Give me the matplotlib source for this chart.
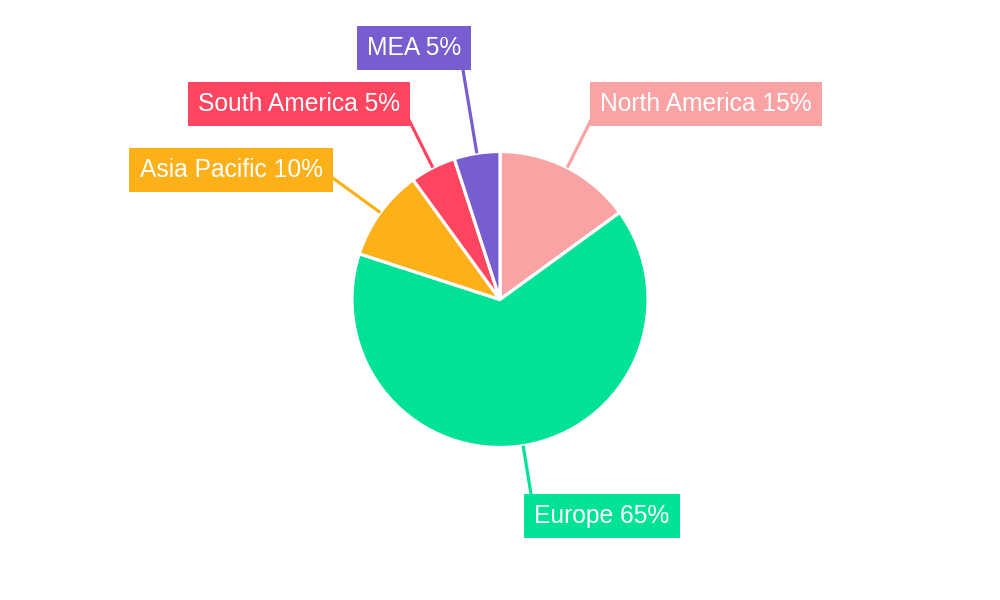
import numpy as np
import matplotlib.pyplot as plt

regions = ["North America", "Europe", "Asia Pacific", "South America", "MEA"]
shares = [15, 65, 10, 5, 5]
colors = ["#F9A3A4", "#00E396", "#FEB019", "#FF4560", "#775DD0"]

# label box centres and leader-line end points (pixels, y from top)
label_pos = [(706, 104), (602, 516), (231, 170), (299, 104), (414, 48)]
line_end = [(592, 118), (531, 494), (330, 176), (408, 118), (463, 70)]

W, H = 1000, 600
cx, cy, r = 500, 299.5, 148

plt.rcParams['font.family'] = ['Liberation Sans', 'DejaVu Sans']
fig = plt.figure(figsize=(10, 6), dpi=100)
ax = fig.add_axes([0, 0, 1, 1])

wedges, _ = ax.pie(shares, colors=colors, startangle=90, counterclock=False,
                   center=(cx, H - cy), radius=r,
                   wedgeprops=dict(edgecolor='white', linewidth=2.3))

for w, name, v, c, (lx, ly), (ex, ey) in zip(wedges, regions, shares, colors,
                                              label_pos, line_end):
    mid = np.deg2rad((w.theta1 + w.theta2) / 2)
    sx = cx + r * np.cos(mid)
    sy = (H - cy) + r * np.sin(mid)
    ax.plot([sx, ex], [sy, H - ey], color=c, lw=2.3, solid_capstyle='butt', zorder=1)
    ax.text(lx, H - ly, f"{name} {v}%", color='white', fontsize=17.7,
            ha='center', va='center', zorder=3,
            bbox=dict(boxstyle='square,pad=0.42', fc=c, ec='none'))

ax.set_xlim(0, W)
ax.set_ylim(0, H)
ax.set_aspect('equal')
ax.axis('off')

fig.savefig("out.png", dpi=100)
